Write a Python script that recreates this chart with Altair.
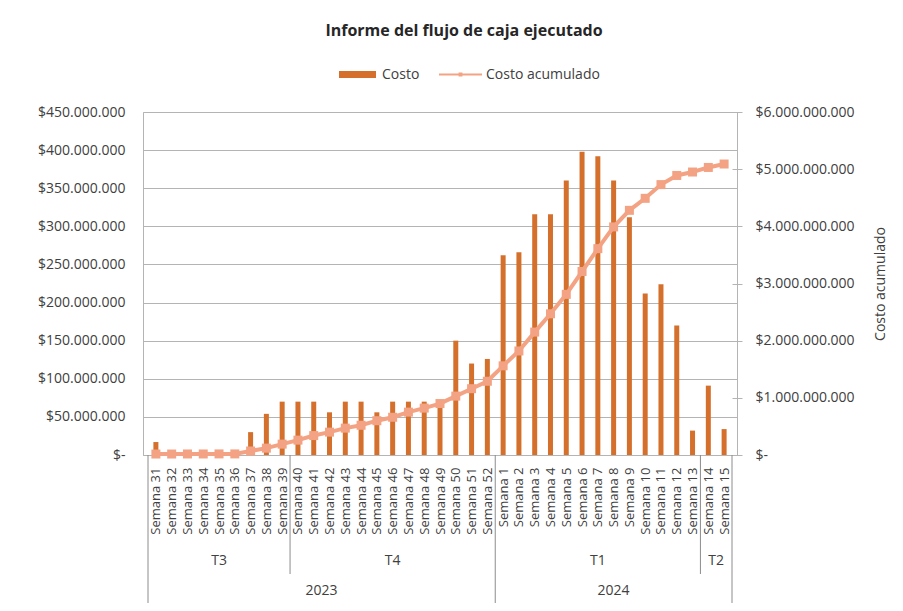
import altair as alt
import pandas as pd

# ---------------- data ----------------
weeks = [f"Semana {n}" for n in range(31, 53)] + [f"Semana {n}" for n in range(1, 16)]
costo = [17e6, 0, 0, 0, 0, 0, 30e6, 54e6, 70e6,
         70e6, 70e6, 56e6, 70e6, 70e6, 56e6, 70e6, 70e6, 70e6, 66e6, 150e6, 120e6, 126e6,
         262e6, 266e6, 316e6, 316e6, 360e6, 398e6, 392e6, 360e6, 312e6, 212e6, 224e6, 170e6, 32e6,
         91e6, 34e6]
acumulado = [0.017e9, 0.017e9, 0.018e9, 0.018e9, 0.019e9, 0.019e9, 0.07e9, 0.12e9, 0.19e9,
             0.26e9, 0.34e9, 0.40e9, 0.47e9, 0.52e9, 0.60e9, 0.66e9, 0.75e9, 0.82e9, 0.90e9, 1.03e9, 1.16e9, 1.29e9,
             1.56e9, 1.82e9, 2.15e9, 2.47e9, 2.81e9, 3.21e9, 3.61e9, 3.99e9, 4.28e9, 4.49e9, 4.73e9, 4.89e9, 4.95e9,
             5.03e9, 5.09e9]
quarters = ["T3", "T4", "T1", "T2"]
quarter_counts = [9, 13, 13, 2]
years = ["2023", "2024"]
year_counts = [22, 15]

# ---------------- styles ----------------
FONT = "Open Sans"
TXT = "#404040"
BAR = "#D4702C"
LINE = "#F3A383"
GRID = "#b4b4b4"

n = len(weeks)
df = pd.DataFrame({"idx": list(range(n)), "semana": weeks, "costo": costo,
                   "acum": acumulado, "s1": "Costo", "s2": "Costo acumulado"})

# group layout tables derived from the counts
def groups(names, counts):
    rows, start = [], 0
    for name, c in zip(names, counts):
        rows.append({"name": name, "start": start - 0.5, "end": start + c - 0.5,
                     "mid": start + c / 2 - 0.5})
        start += c
    return pd.DataFrame(rows)

qdf = groups(quarters, quarter_counts)
ydf = groups(years, year_counts)
year_bounds = sorted(set(ydf["start"]).union(ydf["end"]))
q_bounds = sorted(set(qdf["start"]).union(qdf["end"]) - set(year_bounds))
qb_df = pd.DataFrame({"b": q_bounds})
yb_df = pd.DataFrame({"b": year_bounds})

label_arr = "[" + ",".join(f"'{w}'" for w in weeks) + "]"
xscale = alt.Scale(domain=[-0.5, n - 0.5], nice=False, zero=False)
xaxis = alt.Axis(values=list(range(n)), labelExpr=f"{label_arr}[datum.value]",
                 labelAngle=270, labelAlign="right", labelBaseline="middle",
                 labelPadding=12, ticks=False, grid=False, domain=True,
                 domainColor=GRID, labelOverlap=False, labelFlush=False,
                 labelFont=FONT, labelFontSize=13, labelColor=TXT, title=None)
X = alt.X("idx:Q", scale=xscale, axis=xaxis)

money = "datum.value == 0 ? '$-' : '$' + replace(format(datum.value, ',.0f'), regexp(',', 'g'), '.')"

bar_sym = "M-1,-0.19L1,-0.19L1,0.19L-1,0.19Z"
line_sym = "M-1,-0.05L1,-0.05L1,0.05L-1,0.05Z M-0.09,-0.09L0.09,-0.09L0.09,0.09L-0.09,0.09Z"

bars = alt.Chart(df).mark_bar(size=5).encode(
    x=X,
    y=alt.Y("costo:Q", scale=alt.Scale(domain=[0, 450e6], nice=False),
            axis=alt.Axis(values=[i * 50e6 for i in range(10)], labelExpr=money,
                          ticks=False, domain=False, grid=True, gridColor=GRID,
                          labelPadding=18, labelFont=FONT, labelFontSize=14,
                          labelColor=TXT, title=None)),
    color=alt.Color("s1:N", scale=alt.Scale(domain=["Costo"], range=[BAR]),
                    legend=alt.Legend(orient="none", legendX=196, legendY=-56,
                                      title=None, symbolType=bar_sym, symbolSize=1369,
                                      symbolStrokeWidth=0, labelOffset=6, padding=0,
                                      labelFont=FONT, labelFontSize=14, labelColor=TXT)),
)

right_axis = alt.Axis(values=[i * 1e9 for i in range(7)], labelExpr=money, orient="right",
                      offset=-5, tickSize=10, tickColor=GRID, domain=False, grid=False,
                      labelPadding=13, labelFont=FONT, labelFontSize=14, labelColor=TXT,
                      title="Costo acumulado", titleAngle=270, titleX=148, titleY=171.5,
                      titleAlign="center", titleBaseline="middle", titleFont=FONT,
                      titleFontSize=14, titleFontWeight="normal", titleColor=TXT)
yscale_r = alt.Scale(domain=[0, 6e9], nice=False)

line = alt.Chart(df).mark_line(strokeWidth=4, color=LINE).encode(
    x=X, y=alt.Y("acum:Q", scale=yscale_r, axis=right_axis))
points = alt.Chart(df).mark_point(shape="square", filled=True, size=81, opacity=1).encode(
    x=X, y=alt.Y("acum:Q", scale=yscale_r, axis=right_axis),
    color=alt.Color("s2:N", scale=alt.Scale(domain=["Costo acumulado"], range=[LINE]),
                    legend=alt.Legend(orient="none", legendX=296, legendY=-59,
                                      title=None, symbolType=line_sym, symbolSize=1849,
                                      symbolStrokeWidth=0, labelOffset=4, padding=0,
                                      labelFont=FONT, labelFontSize=14, labelColor=TXT)),
)
cum = alt.layer(line, points)

q_rules = alt.Chart(qb_df).mark_rule(color="#8c8c8c", strokeWidth=1).encode(
    x=alt.X("b:Q", scale=xscale, axis=xaxis), y=alt.value(343), y2=alt.value(462))
y_rules = alt.Chart(yb_df).mark_rule(color="#8c8c8c", strokeWidth=1).encode(
    x=alt.X("b:Q", scale=xscale, axis=xaxis), y=alt.value(343), y2=alt.value(492))
q_text = alt.Chart(qdf).mark_text(font=FONT, fontSize=14, color=TXT, baseline="middle").encode(
    x=alt.X("mid:Q", scale=xscale, axis=xaxis), y=alt.value(449), text="name:N")
y_text = alt.Chart(ydf).mark_text(font=FONT, fontSize=14, color=TXT, baseline="middle").encode(
    x=alt.X("mid:Q", scale=xscale, axis=xaxis), y=alt.value(479), text="name:N")

chart = alt.layer(bars, cum, q_rules, y_rules, q_text, y_text).resolve_scale(
    y="independent", color="independent"
).properties(
    width=594, height=343,
    title=alt.TitleParams("Informe del flujo de caja  ejecutado", font=FONT, fontSize=16,
                          fontWeight="bold", color="#262626", anchor="middle",
                          frame="group", dx=24, offset=14),
    autosize=alt.AutoSizeParams(type="none"),
    padding={"left": 135, "top": 104, "right": 150, "bottom": 148},
    background="white",
).configure_view(stroke=GRID, strokeWidth=1)

chart.save("out.html", embed_options={"renderer": "svg", "actions": False})
